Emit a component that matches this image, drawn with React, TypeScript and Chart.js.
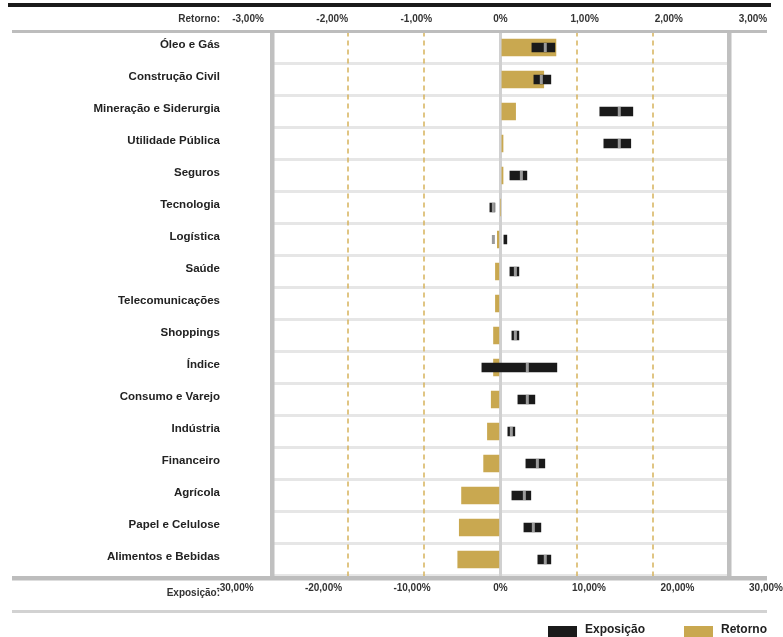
import React, { useEffect, useRef } from "react";
import { Chart, registerables } from "chart.js";

Chart.register(...registerables);

const categories = [
  "Óleo e Gás",
  "Construção Civil",
  "Mineração e Siderurgia",
  "Utilidade Pública",
  "Seguros",
  "Tecnologia",
  "Logística",
  "Saúde",
  "Telecomunicações",
  "Shoppings",
  "Índice",
  "Consumo e Varejo",
  "Indústria",
  "Financeiro",
  "Agrícola",
  "Papel e Celulose",
  "Alimentos e Bebidas",
];

// Retorno (%)
const retorno = [0.73, 0.57, 0.2, 0.035, 0.035, 0, -0.04, -0.065, -0.065, -0.09, -0.09, -0.12, -0.17, -0.22, -0.51, -0.54, -0.56];

// Exposição (%): faixa mínima / máxima e marca
const exposicaoMin = [4.14, 4.4, 13.06, 13.59, 1.25, -1.38, 0.46, 1.25, null, 1.51, -2.43, 2.3, 0.98, 3.35, 1.51, 3.09, 4.92];
const exposicaoMax = [7.16, 6.63, 17.4, 17.13, 3.48, -0.72, 0.85, 2.43, null, 2.43, 7.42, 4.53, 1.9, 5.84, 4.0, 5.32, 6.63];
const exposicaoMarca = [5.9, 5.38, 15.62, 15.62, 2.76, -0.92, -0.92, 1.97, null, 1.97, 3.54, 3.54, 1.44, 4.86, 3.15, 4.33, 5.9];

const retornoTicks = [-3, -2, -1, 0, 1, 2, 3];
const exposicaoTicks = [-30, -20, -10, 0, 10, 20, 30];

const GOLD = "#c9a850";
const BLACK = "#1a1a1a";
const FONT = '"Liberation Sans", Arial, sans-serif';

const fmt = (v: number) => (v === 0 ? "0%" : v.toFixed(2).replace(".", ",") + "%");

const decorations = {
  id: "decorations",
  afterDraw(chart: any) {
    const { ctx, chartArea } = chart;
    ctx.save();
    ctx.fillStyle = BLACK;
    ctx.fillRect(8, 3, 763, 4);
    ctx.fillStyle = "#bdbdbd";
    ctx.fillRect(12, chartArea.top - 1.5, 755, 3);
    ctx.fillRect(12, chartArea.bottom + 0.5, 755, 4.5);
    ctx.fillStyle = "#d2d2d2";
    ctx.fillRect(12, 610, 755, 3);
    ctx.fillStyle = "#333";
    ctx.font = "bold 10px " + FONT;
    ctx.textAlign = "right";
    ctx.textBaseline = "middle";
    ctx.fillText("Retorno:", 220, 19);
    ctx.fillText("Exposição:", 220, 593.5);
    ctx.restore();
  },
};

export default function App() {
  const ref = useRef<HTMLCanvasElement | null>(null);

  useEffect(() => {
    if (!ref.current) return;
    const chart = new Chart(ref.current, {
      type: "bar",
      data: {
        labels: categories,
        datasets: [
          {
            type: "line",
            label: "Marca",
            data: exposicaoMarca as any,
            xAxisID: "xe",
            yAxisID: "y",
            indexAxis: "y",
            showLine: false,
            pointStyle: "line",
            pointRotation: 90,
            pointRadius: 4.5,
            pointBorderWidth: 3,
            pointBorderColor: "#9a9a9a",
            pointBackgroundColor: "#9a9a9a",
            order: 1,
          } as any,
          {
            label: "Exposição",
            data: exposicaoMin.map((v, i) => (v == null ? null : [v, exposicaoMax[i] as number])) as any,
            xAxisID: "xe",
            yAxisID: "y",
            backgroundColor: BLACK,
            barThickness: 9,
            grouped: false,
            order: 2,
          } as any,
          {
            label: "Retorno",
            data: retorno,
            xAxisID: "xr",
            yAxisID: "y",
            backgroundColor: GOLD,
            barThickness: 17,
            grouped: false,
            order: 3,
          } as any,
        ],
      },
      options: {
        indexAxis: "y",
        animation: false,
        responsive: false,
        layout: { padding: { left: 0, right: 54.25, top: 0, bottom: 0 } },
        plugins: { legend: { display: false }, tooltip: { enabled: false } },
        scales: {
          y: {
            type: "category",
            position: "left",
            offset: true,
            grid: { offset: true, color: "#e6e6e6", lineWidth: 3, drawTicks: false, z: -2 },
            border: { display: false },
            ticks: {
              font: { family: FONT, size: 11.5, weight: "bold" },
              color: "#222",
              padding: 52,
              labelOffset: -2.5,
              autoSkip: false,
            },
            afterFit: (s: any) => {
              s.width = 272;
              s.paddingTop = 0;
              s.paddingBottom = 0;
            },
          },
          xr: {
            type: "linear",
            position: "bottom",
            min: -3,
            max: 3,
            ticks: { display: false, stepSize: 1 },
            grid: {
              drawTicks: false,
              z: -1,
              color: (c: any) => {
                const v = c.tick && c.tick.value;
                if (v === 0) return "#d0d0d0";
                if (Math.abs(v) === 3) return "#c0c0c0";
                return "rgba(214,178,90,0.75)";
              },
              lineWidth: (c: any) => {
                const v = c.tick && c.tick.value;
                if (v === 0) return 3;
                if (Math.abs(v) === 3) return 4.5;
                return 2;
              },
            },
            border: {
              display: false,
              dash: (c: any) => {
                const v = c.tick && c.tick.value;
                return v === 0 || Math.abs(v) === 3 ? [] : [5, 4];
              },
            } as any,
            afterFit: (s: any) => {
              s.height = 0;
              s.paddingLeft = 0;
              s.paddingRight = 0;
            },
          },
          xe: {
            type: "linear",
            display: false,
            min: -30,
            max: 30,
          },
          xtop: {
            type: "linear",
            position: "top",
            min: -2.715,
            max: 2.712,
            grid: { display: false, drawTicks: false },
            border: { display: false },
            ticks: {
              autoSkip: false,
              maxRotation: 0,
              padding: 6.5,
              color: "#333",
              font: { family: FONT, size: 10, weight: "bold" },
              callback: (v: any) => fmt(Number(v)),
            },
            afterBuildTicks: (s: any) => {
              s.ticks = retornoTicks.map((v) => ({ value: v }));
            },
            afterFit: (s: any) => {
              s.height = 31.5;
              s.paddingLeft = 0;
              s.paddingRight = 0;
            },
          },
          xbot: {
            type: "linear",
            position: "bottom",
            min: -25.82,
            max: 25.79,
            grid: { display: false, drawTicks: false },
            border: { display: false },
            ticks: {
              autoSkip: false,
              maxRotation: 0,
              padding: 6.5,
              color: "#333",
              font: { family: FONT, size: 10, weight: "bold" },
              callback: (v: any) => fmt(Number(v)),
            },
            afterBuildTicks: (s: any) => {
              s.ticks = exposicaoTicks.map((v) => ({ value: v }));
            },
            afterFit: (s: any) => {
              s.height = 61.5;
              s.paddingLeft = 0;
              s.paddingRight = 0;
            },
          },
        } as any,
      },
      plugins: [decorations],
    });
    return () => chart.destroy();
  }, []);

  const legendText: React.CSSProperties = {
    position: "absolute",
    top: 622,
    font: "bold 12px " + FONT,
    color: "#222",
    lineHeight: "14px",
    whiteSpace: "nowrap",
  };

  return (
    <div style={{ position: "fixed", left: 0, top: 0, width: 783, height: 637, overflow: "hidden", background: "#fff" }}>
      <canvas ref={ref} width={783} height={637} style={{ width: 783, height: 637, display: "block" }} />
      <div style={{ position: "absolute", left: 548, top: 626, width: 29, height: 12, background: BLACK }} />
      <span style={{ ...legendText, left: 585 }}>Exposição</span>
      <div style={{ position: "absolute", left: 684, top: 626, width: 29, height: 12, background: GOLD }} />
      <span style={{ ...legendText, left: 721 }}>Retorno</span>
    </div>
  );
}
